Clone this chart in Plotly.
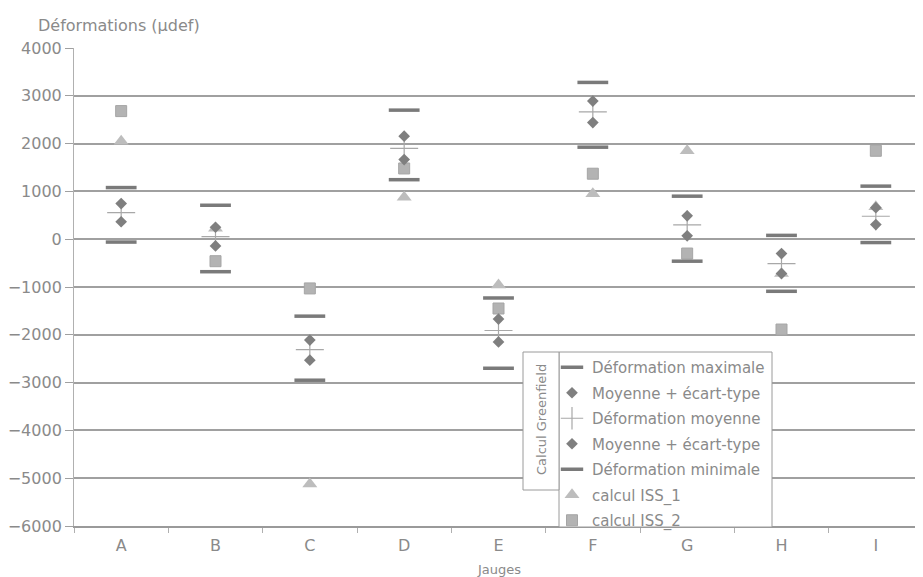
import plotly.graph_objects as go

categories = ["A", "B", "C", "D", "E", "F", "G", "H", "I"]
max_def = [1080, 710, -1610, 2700, -1230, 3280, 900, 80, 1110]
mean_plus_std = [745, 250, -2110, 2155, -1670, 2890, 490, -300, 660]
mean_def = [555, 55, -2310, 1900, -1910, 2665, 300, -510, 480]
mean_minus_std = [365, -140, -2530, 1665, -2150, 2440, 70, -720, 305]
min_def = [-60, -680, -2950, 1245, -2700, 1925, -460, -1090, -70]
iss1 = [2050, 230, -5120, 880, -960, 950, 1850, -720, 680]
iss2 = [2680, -460, -1030, 1480, -1450, 1370, -300, -1890, 1850]

FONT = "DejaVu Sans"
TXT = "#8a8a8a"

fig = go.Figure()

def add(y, name, symbol, size, color, lw=0, lc=None, grp=None):
    fig.add_trace(go.Scatter(
        x=categories, y=y, mode="markers", name=name, legendgroup=grp or name,
        marker=dict(symbol=symbol, size=size, color=color,
                    line=dict(width=lw, color=lc or color)),
    ))

add(iss1, "calcul ISS_1", "triangle-up", 13, "#bdbdbd", grp="g6")
add(iss2, "calcul ISS_2", "square", 11, "#b3b3b3", 1, "#a5a5a5", grp="g7")
add(max_def, "Déformation maximale", "line-ew", 22, "#7a7a7a", 3.5, "#7a7a7a", grp="g1")
add(min_def, "Déformation minimale", "line-ew", 22, "#7a7a7a", 3.5, "#7a7a7a", grp="g5")
add(mean_def, "Déformation moyenne", "cross-thin", 20, "#a8a8a8", 1.2, "#a8a8a8", grp="g3")
add(mean_plus_std, "Moyenne + écart-type", "diamond", 9, "#7f7f7f", grp="g2")
add(mean_minus_std, "Moyenne + écart-type", "diamond", 9, "#7f7f7f", grp="g4")

order = {"g1": 1, "g2": 2, "g3": 3, "g4": 4, "g5": 5, "g6": 6, "g7": 7}
for t in fig.data:
    t.legendrank = order[t.legendgroup]

# page has an 8px body margin; figure is offset by it
OFF = 8
PL, PT, PB = 74, 48, 51          # desired page-pixel plot area
PW = 923 - PL
PH = 577 - PT - PB

def px(x):
    return (x - PL) / PW

def py(y):
    return (577 - PB - y) / PH

fig.update_layout(
    width=923 - OFF, height=577 - OFF,
    margin=dict(l=PL - OFF, r=0, t=PT - OFF, b=PB, autoexpand=False),
    paper_bgcolor="white", plot_bgcolor="white",
    font=dict(family=FONT, size=16, color=TXT),
    showlegend=True,
    legend=dict(
        x=px(552), y=py(351), xanchor="left", yanchor="top",
        bgcolor="rgba(0,0,0,0)", borderwidth=0,
        font=dict(family=FONT, size=15, color=TXT),
        tracegroupgap=3, itemwidth=30,
    ),
    xaxis=dict(
        type="category", categoryorder="array", categoryarray=categories,
        range=[-0.5, 8.5], showgrid=False, showline=True, linecolor="#9a9a9a",
        linewidth=1.5, ticks="outside", tickson="boundaries", ticklen=5,
        tickcolor="#b0b0b0", tickfont=dict(family=FONT, size=16, color=TXT),
        ticklabelstandoff=4, automargin=False,
    ),
    yaxis=dict(
        range=[-6000, 4000], dtick=1000, tick0=0, showgrid=True,
        gridcolor="#a0a0a0", gridwidth=1.5, zeroline=False, showline=True,
        linecolor="#b0b0b0", linewidth=1, ticks="outside", ticklen=8,
        tickcolor="#a0a0a0", tickfont=dict(family=FONT, size=16, color=TXT),
        ticklabelstandoff=0, automargin=False,
    ),
)

# legend box (white, above the gridlines)
fig.add_shape(type="rect", xref="paper", yref="paper",
              x0=px(559), x1=px(772), y0=py(527), y1=py(352),
              line=dict(color="#9a9a9a", width=1), fillcolor="white", layer="above")
# Calcul Greenfield box
fig.add_shape(type="rect", xref="paper", yref="paper",
              x0=px(523), x1=px(559), y0=py(490), y1=py(352),
              line=dict(color="#9a9a9a", width=1), fillcolor="white", layer="above")
fig.add_annotation(xref="paper", yref="paper", x=px(541), y=py(420),
                   xanchor="center", yanchor="middle",
                   text="Calcul Greenfield", textangle=-90, showarrow=False,
                   font=dict(family=FONT, size=13, color=TXT))

fig.add_annotation(xref="paper", yref="paper", x=px(36), y=py(14),
                   xanchor="left", yanchor="top", text="Déformations (µdef)",
                   showarrow=False, font=dict(family=FONT, size=16, color=TXT))
fig.add_annotation(xref="paper", yref="paper", x=px(499), y=py(560),
                   xanchor="center", yanchor="top", text="Jauges",
                   showarrow=False, font=dict(family=FONT, size=13, color=TXT))

fig.write_html("out.html")
